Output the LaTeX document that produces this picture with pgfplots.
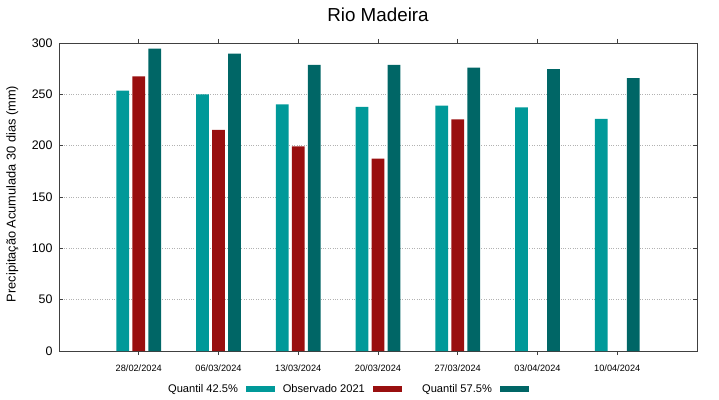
\documentclass[border=0pt]{standalone}
\usepackage{fontspec}
\setmainfont{Liberation Sans}
\usepackage{pgfplots}
\pgfplotsset{compat=1.18}
\definecolor{cq}{RGB}{0,153,153}
\definecolor{ob}{RGB}{153,15,15}
\definecolor{dq}{RGB}{0,102,102}
\begin{document}
\begin{tikzpicture}[x=1pt,y=1pt]
\path[use as bounding box] (0,0) rectangle (719,399);
\begin{axis}[
  at={(59pt,48pt)}, anchor=south west,
  scale only axis, width=638pt, height=308pt,
  xmin=-1, xmax=7, ymin=0, ymax=300,
  xtick={0,1,2,3,4,5,6},
  xticklabels={28/02/2024,06/03/2024,13/03/2024,20/03/2024,27/03/2024,03/04/2024,10/04/2024},
  ytick={0,50,100,150,200,250,300},
  /pgf/number format/assume math mode=true,
  xticklabel style={font=\fontsize{9.2}{11}\selectfont, yshift=-6pt},
  yticklabel style={font=\fontsize{12.4}{14}\selectfont, xshift=-3pt},
  tick align=inside, major tick length=4pt,
  tick style={black!75, line width=0.7pt},
  axis line style={black!75, line width=0.9pt},
  ymajorgrids, major grid style={dotted, gray!60, line width=0.5pt},
  title={Rio Madeira},
  title style={font=\fontsize{18.8}{22}\selectfont, at={(0.5,1)}, anchor=south, yshift=12pt},
  ylabel={Precipitação Acumulada 30 dias (mm)},
  ylabel style={font=\fontsize{12.8}{15}\selectfont, at={(axis description cs:-0.073,0.51)}, anchor=center},
  ybar, bar width=12.7pt,
  legend columns=3,
  legend plot pos=right,
  legend style={draw=none, fill=none, at={(axis description cs:0.1453,-0.124)}, anchor=west,
    font=\fontsize{11.1}{13}\selectfont, inner sep=0pt,
    /tikz/every even column/.append style={column sep=4pt}},
]
\addplot[fill=cq, draw=none, bar shift=-16pt,
  legend image code/.code={\path (0pt,0pt); \fill[cq] (6pt,-3pt) rectangle (35pt,3pt);}]
  coordinates {(0,253.5) (1,250) (2,240.2) (3,237.9) (4,238.9) (5,237.2) (6,226.2)};
\addlegendentry{\makebox[84pt][r]{Quantil 42.5\%}}
\addplot[fill=ob, draw=none, bar shift=0pt,
  legend image code/.code={\path (0pt,0pt); \fill[ob] (6pt,-3pt) rectangle (35pt,3pt);}]
  coordinates {(0,267.5) (1,215.4) (2,199.2) (3,187.4) (4,225.5)};
\addlegendentry{\makebox[84pt][r]{Observado 2021}}
\addplot[fill=dq, draw=none, bar shift=16pt,
  legend image code/.code={\path (0pt,0pt); \fill[dq] (6pt,-3pt) rectangle (35pt,3pt);}]
  coordinates {(0,294.5) (1,289.6) (2,278.6) (3,278.6) (4,276) (5,274.6) (6,265.9)};
\addlegendentry{\makebox[84pt][r]{Quantil 57.5\%}}
\end{axis}
\end{tikzpicture}
\end{document}
